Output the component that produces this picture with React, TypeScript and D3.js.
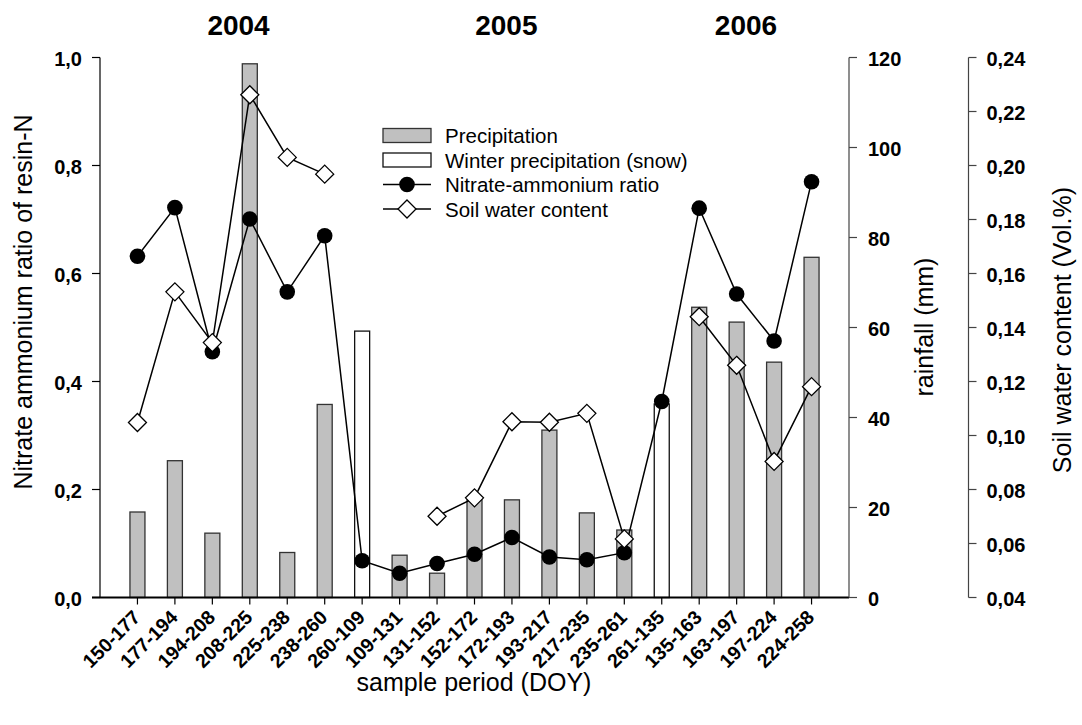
import * as d3 from "d3";

// sample periods (day of year)
const periods = [
  "150-177", "177-194", "194-208", "208-225", "225-238", "238-260",
  "260-109", "109-131", "131-152", "152-172", "172-193", "193-217",
  "217-235", "235-261", "261-135", "135-163", "163-197", "197-224", "224-258",
];

// rainfall (mm); summer precipitation vs. winter (snow)
const precipitation = [
  19.0, 30.4, 14.3, 118.6, 10.0, 42.9, null, 9.4, 5.4, 21.7,
  21.7, 37.2, 18.8, 15.0, null, 64.5, 61.2, 52.3, 75.6,
];
const winterPrecipitation = [
  null, null, null, null, null, null, 59.2, null, null, null,
  null, null, null, null, 43.0, null, null, null, null,
];

const nitrateRatio = [
  0.632, 0.722, 0.455, 0.701, 0.566, 0.67, 0.068, 0.045, 0.063, 0.08,
  0.111, 0.075, 0.07, 0.083, 0.363, 0.721, 0.562, 0.475, 0.77,
];

const soilWater = [
  0.1048, 0.1532, 0.1344, 0.2262, 0.203, 0.1968, null, null, 0.0701, 0.0769,
  0.1051, 0.1049, 0.1082, 0.0617, null, 0.144, 0.126, 0.0904, 0.1181,
];

const years = ["2004", "2005", "2006"];
const leftTicks = [0, 0.2, 0.4, 0.6, 0.8, 1.0];
const rainTicks = [0, 20, 40, 60, 80, 100, 120];
const swcTicks = [0.04, 0.06, 0.08, 0.1, 0.12, 0.14, 0.16, 0.18, 0.2, 0.22, 0.24];

const legendItems = [
  "Precipitation",
  "Winter precipitation (snow)",
  "Nitrate-ammonium ratio",
  "Soil water content",
];

const W = 1082;
const H = 725;
const FONT = "'Liberation Sans', Arial, Helvetica, sans-serif";
const de = d3.formatLocale({ decimal: ",", thousands: ".", grouping: [3], currency: ["", "€"] });

export default function App() {
  const top = 57.5;
  const bottom = 597.5;
  const left = 100;
  const right = 849;
  const swcX = 968.5;

  const x = d3.scaleLinear().domain([-1, periods.length]).range([left, right]);
  const y = d3.scaleLinear().domain([0, 1]).range([bottom, top]);
  const yRain = d3.scaleLinear().domain([0, 120]).range([bottom, top]);
  const ySwc = d3.scaleLinear().domain([0.04, 0.24]).range([bottom, top]);

  const barW = 15;

  const nitrateLine = d3
    .line<number>()
    .x((_, i) => x(i))
    .y((d) => y(d));

  const swcLine = d3
    .line<number | null>()
    .defined((d) => d != null)
    .x((_, i) => x(i))
    .y((d) => ySwc(d as number));

  const diamond = (cx: number, cy: number, r: number) =>
    `M${cx},${cy - r}L${cx + r},${cy}L${cx},${cy + r}L${cx - r},${cy}Z`;

  const yearPos = [2.7, 9.85, 16.25];
  const legX = 383;
  const legY = 135.5;
  const legStep = 24.5;

  return (
    <svg
      width={W}
      height={H}
      style={{ position: "absolute", left: 0, top: 0, background: "#fff" }}
      fontFamily={FONT}
    >
      {/* year headings */}
      {years.map((yr, i) => (
        <text key={yr} x={x(yearPos[i])} y={34.5} textAnchor="middle" fontSize={28} fontWeight="bold">
          {yr}
        </text>
      ))}

      {/* bars */}
      {precipitation.map((v, i) =>
        v == null ? null : (
          <rect
            key={"p" + i}
            x={x(i) - barW / 2}
            y={yRain(v)}
            width={barW}
            height={bottom - yRain(v)}
            fill="#c0c0c0"
            stroke="#333"
            strokeWidth={1.3}
          />
        )
      )}
      {winterPrecipitation.map((v, i) =>
        v == null ? null : (
          <rect
            key={"w" + i}
            x={x(i) - barW / 2}
            y={yRain(v)}
            width={barW}
            height={bottom - yRain(v)}
            fill="#fff"
            stroke="#111"
            strokeWidth={1.3}
          />
        )
      )}

      {/* nitrate-ammonium ratio */}
      <path d={nitrateLine(nitrateRatio) ?? ""} fill="none" stroke="#000" strokeWidth={1.5} />
      {nitrateRatio.map((v, i) => (
        <circle key={"n" + i} cx={x(i)} cy={y(v)} r={7.8} fill="#000" />
      ))}

      {/* soil water content */}
      <path d={swcLine(soilWater) ?? ""} fill="none" stroke="#000" strokeWidth={1.5} />
      {soilWater.map((v, i) =>
        v == null ? null : (
          <path key={"s" + i} d={diamond(x(i), ySwc(v), 9)} fill="#fff" stroke="#000" strokeWidth={1.3} />
        )
      )}

      {/* left axis */}
      <line x1={left} x2={left} y1={top} y2={bottom} stroke="#000" strokeWidth={1.2} />
      {leftTicks.map((t) => (
        <g key={"l" + t}>
          <line x1={left - 8} x2={left} y1={y(t)} y2={y(t)} stroke="#000" strokeWidth={1.2} />
          <text x={82} y={y(t) + 8.5} textAnchor="end" fontSize={20} fontWeight="bold">
            {de.format(".1f")(t)}
          </text>
        </g>
      ))}

      {/* x axis */}
      <line x1={left - 8} x2={right} y1={bottom} y2={bottom} stroke="#000" strokeWidth={2.2} />
      {periods.map((p, i) => (
        <g key={p}>
          <line x1={x(i)} x2={x(i)} y1={bottom} y2={bottom + 7} stroke="#000" strokeWidth={1.2} />
          <text
            transform={`translate(${x(i) + 4},${bottom + 21}) rotate(-45)`}
            textAnchor="end"
            fontSize={19.5}
            fontWeight="bold"
          >
            {p}
          </text>
        </g>
      ))}

      {/* rainfall axis */}
      <line x1={right} x2={right} y1={top} y2={bottom} stroke="#444" strokeWidth={1.2} />
      {rainTicks.map((t) => (
        <g key={"r" + t}>
          <line x1={right} x2={right + 8} y1={yRain(t)} y2={yRain(t)} stroke="#444" strokeWidth={1.2} />
          <text x={868} y={yRain(t) + 8.5} fontSize={20} fontWeight="bold">
            {t}
          </text>
        </g>
      ))}

      {/* soil water axis */}
      <line x1={swcX} x2={swcX} y1={top} y2={bottom} stroke="#444" strokeWidth={1.2} />
      {swcTicks.map((t) => (
        <g key={"v" + t}>
          <line x1={swcX} x2={swcX + 8} y1={ySwc(t)} y2={ySwc(t)} stroke="#444" strokeWidth={1.2} />
          <text x={986.5} y={ySwc(t) + 8.5} fontSize={20} fontWeight="bold">
            {de.format(".2f")(t)}
          </text>
        </g>
      ))}

      {/* axis titles */}
      <text transform="translate(31.5,302) rotate(-90)" textAnchor="middle" fontSize={25}>
        Nitrate ammonium ratio of resin-N
      </text>
      <text transform="translate(933,327) rotate(-90)" textAnchor="middle" fontSize={25}>
        rainfall (mm)
      </text>
      <text transform="translate(1071,330) rotate(-90)" textAnchor="middle" fontSize={25}>
        Soil water content (Vol.%)
      </text>
      <text x={474} y={691} textAnchor="middle" fontSize={25}>
        sample period (DOY)
      </text>

      {/* legend */}
      <g>
        <rect x={legX} y={legY - 7} width={48} height={14} fill="#c0c0c0" stroke="#333" strokeWidth={1.3} />
        <rect x={legX} y={legY + legStep - 7} width={48} height={14} fill="#fff" stroke="#111" strokeWidth={1.3} />
        <line x1={legX} x2={legX + 48} y1={legY + 2 * legStep} y2={legY + 2 * legStep} stroke="#000" strokeWidth={1.5} />
        <circle cx={legX + 24} cy={legY + 2 * legStep} r={7.8} fill="#000" />
        <line x1={legX} x2={legX + 48} y1={legY + 3 * legStep} y2={legY + 3 * legStep} stroke="#000" strokeWidth={1.5} />
        <path d={diamond(legX + 24, legY + 3 * legStep, 9)} fill="#fff" stroke="#000" strokeWidth={1.3} />
        {legendItems.map((t, i) => (
          <text key={t} x={445} y={legY + i * legStep + 7.5} fontSize={20.5}>
            {t}
          </text>
        ))}
      </g>
    </svg>
  );
}
